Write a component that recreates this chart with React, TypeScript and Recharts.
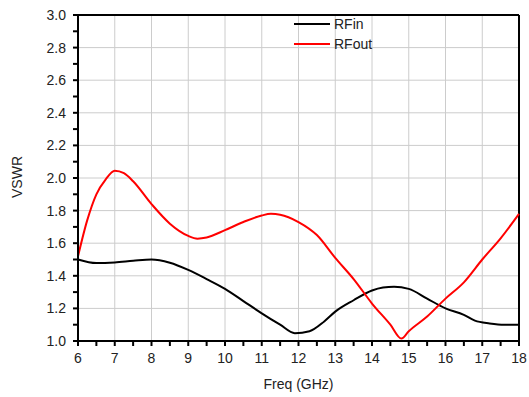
import { LineChart, Line, XAxis, YAxis, CartesianGrid, ReferenceLine } from 'recharts'

const rfinFreq = [6, 6.5, 7, 7.5, 8, 8.5, 9, 9.5, 10, 10.5, 11, 11.5, 11.9, 12.3, 12.7, 13, 13.5, 14, 14.3, 14.6, 15, 15.5, 16, 16.5, 16.8, 17.2, 17.6, 18]
const rfinVswr = [1.5, 1.478, 1.482, 1.492, 1.5, 1.48, 1.436, 1.38, 1.32, 1.245, 1.17, 1.1, 1.048, 1.06, 1.12, 1.18, 1.25, 1.31, 1.328, 1.333, 1.32, 1.26, 1.2, 1.16, 1.125, 1.108, 1.1, 1.1]

const rfoutFreq = [6, 6.25, 6.5, 6.75, 7, 7.25, 7.5, 8, 8.5, 9, 9.25, 9.5, 10, 10.5, 11, 11.25, 11.5, 12, 12.5, 13, 13.5, 14, 14.5, 14.8, 15, 15.5, 16, 16.5, 17, 17.5, 18]
const rfoutVswr = [1.52, 1.74, 1.9, 1.99, 2.045, 2.03, 1.98, 1.84, 1.72, 1.645, 1.628, 1.635, 1.68, 1.73, 1.77, 1.78, 1.775, 1.73, 1.65, 1.51, 1.38, 1.23, 1.1, 1.015, 1.06, 1.15, 1.26, 1.36, 1.5, 1.63, 1.78]

const xMajor = [6, 7, 8, 9, 10, 11, 12, 13, 14, 15, 16, 17, 18]
const xAll = [6, 6.5, 7, 7.5, 8, 8.5, 9, 9.5, 10, 10.5, 11, 11.5, 12, 12.5, 13, 13.5, 14, 14.5, 15, 15.5, 16, 16.5, 17, 17.5, 18]
const yMajor = [1.0, 1.2, 1.4, 1.6, 1.8, 2.0, 2.2, 2.4, 2.6, 2.8, 3.0]
const yAll = [1.0, 1.1, 1.2, 1.3, 1.4, 1.5, 1.6, 1.7, 1.8, 1.9, 2.0, 2.1, 2.2, 2.3, 2.4, 2.5, 2.6, 2.7, 2.8, 2.9, 3.0]

const series = [
  { key: 'rfin', name: 'RFin', color: '#000000' },
  { key: 'rfout', name: 'RFout', color: '#ff0000' },
]

// one table on the union of both frequency grids
const allFreq = Array.from(new Set([...rfinFreq, ...rfoutFreq])).sort((a, b) => a - b)
const data = allFreq.map((f) => {
  const a = rfinFreq.indexOf(f)
  const b = rfoutFreq.indexOf(f)
  return { freq: f, rfin: a >= 0 ? rfinVswr[a] : null, rfout: b >= 0 ? rfoutVswr[b] : null }
})

const font = '"Liberation Sans", Arial, sans-serif'
const isMajor = (v: number, list: number[]) => list.some((m) => Math.abs(m - v) < 1e-6)
const tickStyle = { fontSize: 14, fontFamily: font, fill: '#222' }
const black = { stroke: '#000', strokeWidth: 2 }

export default function App() {
  return (
    <div style={{ position: 'absolute', left: 0, top: 0, width: 529, height: 397 }}>
      <LineChart width={529} height={397} data={data} margin={{ top: 15, right: 10, bottom: 0, left: 0 }}>
        <CartesianGrid stroke="#cccccc" verticalValues={xMajor} horizontalValues={yMajor} />
        <XAxis
          dataKey="freq"
          type="number"
          domain={[6, 18]}
          ticks={xAll}
          interval={0}
          height={56}
          tickSize={5}
          tickMargin={7}
          axisLine={black}
          tickLine={black}
          tick={tickStyle}
          tickFormatter={(v: number) => (isMajor(v, xMajor) ? String(v) : '')}
        />
        <YAxis
          type="number"
          domain={[1, 3]}
          ticks={yAll}
          interval={0}
          width={78}
          tickSize={5}
          tickMargin={7}
          axisLine={black}
          tickLine={black}
          tick={tickStyle}
          tickFormatter={(v: number) => (isMajor(v, yMajor) ? v.toFixed(1) : '')}
        />
        <ReferenceLine y={3} stroke="#000" strokeWidth={2} />
        <ReferenceLine x={18} stroke="#000" strokeWidth={2} />
        {series.map((s) => (
          <Line
            key={s.key}
            dataKey={s.key}
            name={s.name}
            type="monotone"
            stroke={s.color}
            strokeWidth={2}
            dot={false}
            connectNulls
            isAnimationActive={false}
          />
        ))}
      </LineChart>
      {/* axis titles and legend */}
      <div style={{ position: 'absolute', left: 0, top: 376, width: 597, textAlign: 'center', fontFamily: font, fontSize: 14, color: '#222' }}>
        Freq (GHz)
      </div>
      <div
        style={{
          position: 'absolute',
          left: 17 - 50,
          top: 178 - 9,
          width: 100,
          textAlign: 'center',
          transform: 'rotate(-90deg)',
          fontFamily: font,
          fontSize: 14,
          color: '#222',
        }}
      >
        VSWR
      </div>
      <div style={{ position: 'absolute', left: 294, top: 14, fontFamily: font, fontSize: 14, color: '#222' }}>
        {series.map((s) => (
          <div key={s.key} style={{ display: 'flex', alignItems: 'center', height: 20 }}>
            <svg width={36} height={4} style={{ marginRight: 4 }}>
              <line x1={0} x2={36} y1={2} y2={2} stroke={s.color} strokeWidth={2} />
            </svg>
            <span>{s.name}</span>
          </div>
        ))}
      </div>
    </div>
  )
}
